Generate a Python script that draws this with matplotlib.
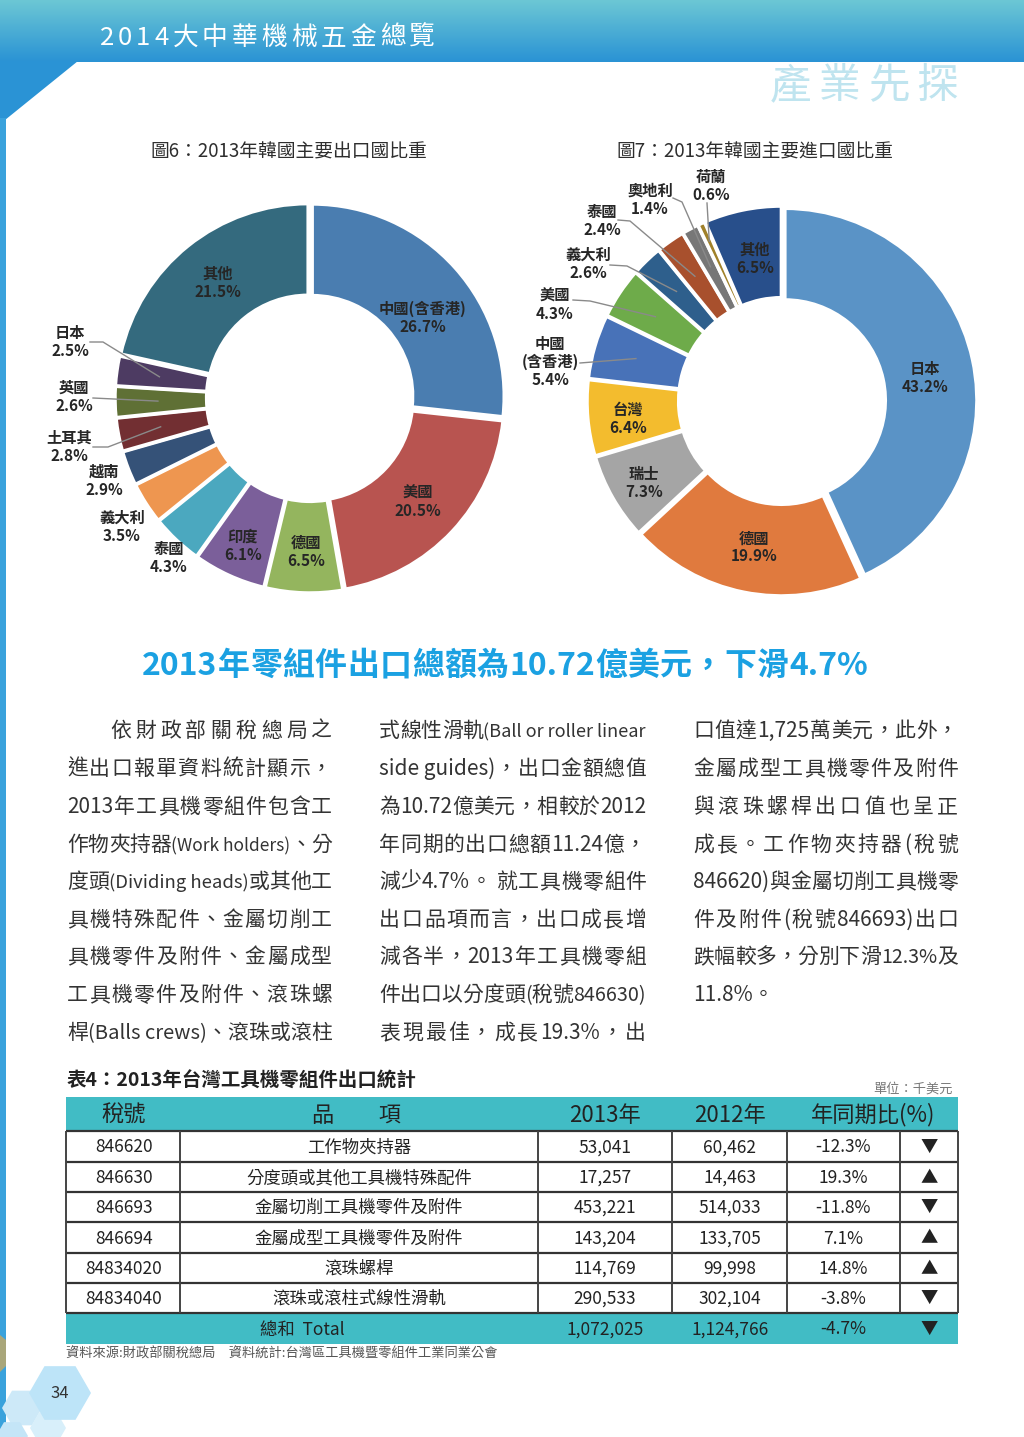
import matplotlib
matplotlib.use("Agg")
import matplotlib.pyplot as plt
from matplotlib import font_manager
from matplotlib.patches import Rectangle, Polygon, RegularPolygon
from matplotlib.colors import LinearSegmentedColormap
import numpy as np

CJK = ['Noto Sans CJK TC', 'DejaVu Sans']
plt.rcParams['font.family'] = CJK
_names = {f.name for f in font_manager.fontManager.ttflist}
NARROW = (['Liberation Sans Narrow'] + CJK) if 'Liberation Sans Narrow' in _names else CJK

# ---------------- data ----------------
# 圖6 韓國主要出口國
exp_countries = ['中國(含香港)', '美國', '德國', '印度', '泰國', '義大利', '越南', '土耳其', '英國', '日本', '其他']
exp_share = [26.7, 20.5, 6.5, 6.1, 4.3, 3.5, 2.9, 2.8, 2.6, 2.5, 21.5]
exp_colors = ['#4A7DB0', '#B85450', '#94B55E', '#7B5F9A', '#4BA8BF', '#EE9650',
              '#355278', '#722F32', '#5F7035', '#4D3B62', '#346A7E']

# 圖7 韓國主要進口國
imp_countries = ['日本', '德國', '瑞士', '台灣', '中國\n(含香港)', '美國', '義大利', '泰國', '奧地利', '荷蘭', '其他']
imp_share = [43.2, 19.9, 7.3, 6.4, 5.4, 4.3, 2.6, 2.4, 1.4, 0.6, 6.5]
imp_colors = ['#5A93C6', '#E07A3E', '#A5A5A5', '#F3BC2E', '#4872B8', '#6EAB4A',
              '#2E5F8C', '#A8502D', '#777777', '#A0812A', '#284F8B']

# 表4
tbl_header = ['稅號', '品　　項', '2013年', '2012年', '年同期比(%)']
codes = ['846620', '846630', '846693', '846694', '84834020', '84834040']
items = ['工作物夾持器', '分度頭或其他工具機特殊配件', '金屬切削工具機零件及附件',
         '金屬成型工具機零件及附件', '滾珠螺桿', '滾珠或滾柱式線性滑軌']
v2013 = [53041, 17257, 453221, 143204, 114769, 290533]
v2012 = [60462, 14463, 514033, 133705, 99998, 302104]
yoy = [-12.3, 19.3, -11.8, 7.1, 14.8, -3.8]
total_2013, total_2012, total_yoy = 1072025, 1124766, -4.7

# 內文
col1 = ['依財政部關稅總局之', '進出口報單資料統計顯示，', '2013年工具機零組件包含工',
        '作物夾持器(Work holders)、分', '度頭(Dividing heads)或其他工', '具機特殊配件、金屬切削工',
        '具機零件及附件、金屬成型', '工具機零件及附件、滾珠螺', '桿(Balls crews)、滾珠或滾柱']
col2 = ['式線性滑軌(Ball or roller linear', 'side guides)，出口金額總值', '為10.72億美元，相較於2012',
        '年同期的出口總額11.24億，', '減少4.7%。 就工具機零組件', '出口品項而言，出口成長增',
        '減各半，2013年工具機零組', '件出口以分度頭(稅號846630)', '表現最佳，成長19.3%，出']
col3 = ['口值達1,725萬美元，此外，', '金屬成型工具機零件及附件', '與滾珠螺桿出口值也呈正',
        '成長。工作物夾持器(稅號', '846620)與金屬切削工具機零', '件及附件(稅號846693)出口',
        '跌幅較多，分別下滑12.3%及', '11.8%。']

# ---------------- page ----------------
W, H = 1024, 1437
fig = plt.figure(figsize=(W / 100, H / 100), dpi=100)
ax_bg = fig.add_axes([0, 0, 1, 1])

# header band
hdr = LinearSegmentedColormap.from_list('hdr', ['#6CC7D4', '#2A93D5'])
ax_bg.imshow(np.linspace(0, 1, 64).reshape(-1, 1), cmap=hdr, extent=[0, W, 62, 0],
             aspect='auto', zorder=0)
ax_bg.add_patch(Polygon([(0, 61), (78, 61), (5, 120), (0, 120)], color='#2A93D5', lw=0))
ax_bg.add_patch(Rectangle((0, 118), 6, H - 118, color='#3AA2DC', lw=0))
ax_bg.add_patch(Polygon([(0, 1335), (6, 1340), (6, 1366), (0, 1372)], color='#A9A67A', lw=0))
ax_bg.set_xlim(0, W)
ax_bg.set_ylim(H, 0)
ax_bg.axis('off')

renderer = fig.canvas.get_renderer()


def is_cjk(ch):
    return ord(ch) > 0x2E80


def width_px(s, size, fam, weight):
    t = ax_bg.text(0, 0, s, fontsize=size, family=fam, weight=weight)
    w = t.get_window_extent(renderer).width
    t.remove()
    return w


def tokens(line, charwise=False):
    if charwise:
        return list(line)
    out, buf = [], ''
    for ch in line:
        if is_cjk(ch):
            if buf:
                out.append(buf)
                buf = ''
            out.append(ch)
        else:
            buf += ch
    if buf:
        out.append(buf)
    return out


def justify(line, x0, x1, y, size=15, color='#333333', weight='normal', last=False, charwise=False):
    toks = tokens(line, charwise)
    lat = [not is_cjk(t[0]) for t in toks]
    fams = [NARROW if l else CJK for l in lat]
    sizes = [size] * len(toks)
    ws = [width_px(t, size, f, weight) for t, f in zip(toks, fams)]
    room = x1 - x0
    lw_ = sum(w for w, l in zip(ws, lat) if l)
    if sum(ws) > room and lw_ > 0:
        k = (room - (sum(ws) - lw_)) / lw_
        sizes = [s * k if l else s for s, l in zip(sizes, lat)]
        ws = [w * k if l else w for w, l in zip(ws, lat)]
    gap = 0 if (last or len(toks) < 2) else (room - sum(ws)) / (len(toks) - 1)
    x = x0
    for t, w, s, f in zip(toks, ws, sizes, fams):
        ax_bg.text(x, y, t, fontsize=s, family=f, color=color, weight=weight,
                   ha='left', va='baseline')
        x += w + gap


justify('2014大中華機械五金總覽', 100, 435, 45, size=18.5, color='white', weight='medium', charwise=True)
justify('產業先探', 770, 958, 98, size=30, color='#BFE4EF', weight='light', charwise=True)

# ---------------- donuts ----------------
def donut(cx, cy, R, shares, colors, labels, inside, outside, leaders, lead_r):
    ax = fig.add_axes([(cx - R) / W, 1 - (cy + R) / H, 2 * R / W, 2 * R / H])
    wedges, _ = ax.pie(shares, colors=colors, startangle=90, counterclock=False,
                       radius=0.985, explode=[0.015] * len(shares),
                       wedgeprops=dict(width=0.47, edgecolor='white', linewidth=2.5))
    ax.set_xlim(-1, 1)
    ax.set_ylim(-1, 1)
    ax.axis('off')

    def to_ax(p):
        return (p[0] - cx) / R, (cy - p[1]) / R

    for w, lab, s in zip(wedges, labels, shares):
        mid = np.deg2rad((w.theta1 + w.theta2) / 2)
        txt = f'{lab}\n{s}%'
        if lab in inside:
            dx, dy = inside[lab]
            ax.text(0.755 * np.cos(mid) + dx / R, 0.755 * np.sin(mid) - dy / R, txt,
                    ha='center', va='center', fontsize=11, weight='bold',
                    color='#262626', linespacing=1.15)
        else:
            tx, ty = to_ax(outside[lab])
            ax.text(tx, ty, txt, ha='center', va='center', fontsize=11, weight='bold',
                    color='#262626', linespacing=1.15, clip_on=False)
        if lab in leaders:
            r = lead_r.get(lab, 0.78)
            pts = [to_ax(p) for p in leaders[lab]] + [(r * np.cos(mid), r * np.sin(mid))]
            ax.plot([p[0] for p in pts], [p[1] for p in pts], color='#8A8A8A', lw=1,
                    clip_on=False)
    return ax


# inside labels: nudges in pixels (dx, dy-down)
donut(310, 398, 195, exp_share, exp_colors, exp_countries,
      inside={'其他': (0, 0), '中國(含香港)': (3, 18), '美國': (0, 3), '德國': (1, 7), '印度': (-6, 14)},
      outside={'日本': (70, 342), '英國': (74, 397), '土耳其': (69, 447),
               '越南': (104, 481), '義大利': (122, 527), '泰國': (169, 558)},
      leaders={'日本': [(90, 342), (103, 342)], '英國': [(93, 398)],
               '土耳其': [(93, 447), (108, 447)]},
      lead_r={})

donut(782, 401, 195, imp_share, imp_colors, imp_countries,
      inside={'日本': (-1, 8), '德國': (1, 2), '瑞士': (-10, 9), '台灣': (-7, 5), '其他': (3, 2)},
      outside={'荷蘭': (711, 186), '奧地利': (650, 200), '泰國': (602, 221),
               '義大利': (588, 264), '美國': (555, 305), '中國\n(含香港)': (550, 362)},
      leaders={'荷蘭': [(707, 203)], '奧地利': [(673, 198), (682, 202)],
               '泰國': [(618, 220), (630, 221)], '義大利': [(610, 265), (627, 266)],
               '美國': [(573, 300), (590, 301)], '中國\n(含香港)': [(580, 363)]},
      lead_r={'荷蘭': 0.9})

ax_bg.text(289, 152, '圖6：2013年韓國主要出口國比重', ha='center', va='center',
           fontsize=13.5, weight='medium', color='#2E2E2E')
ax_bg.text(755, 152, '圖7：2013年韓國主要進口國比重', ha='center', va='center',
           fontsize=13.5, weight='medium', color='#2E2E2E')

# ---------------- headline + body ----------------
justify('2013年零組件出口總額為10.72億美元，下滑4.7%', 142, 868, 675, size=23,
        color='#1BA1E2', weight='bold')

rows_y = [729, 767, 805, 843, 880, 918, 955, 993, 1031]
for i, line in enumerate(col1):
    justify(line, 110 if i == 0 else 67, 332, rows_y[i] + 8)
for i, line in enumerate(col2):
    justify(line, 379, 646, rows_y[i] + 8)
for i, line in enumerate(col3):
    justify(line, 693, 958, rows_y[i] + 8, last=(i == len(col3) - 1))

# ---------------- table ----------------
ax_bg.text(67, 1081, '表4：2013年台灣工具機零組件出口統計', ha='left', va='center',
           fontsize=14, weight='bold', color='#222222')
ax_bg.text(953, 1089, '單位：千美元', ha='right', va='center', fontsize=9.5, color='#777777')

col_edges = [66, 180, 538, 672, 787, 900, 958]
row_edges = [1097, 1131, 1162, 1192, 1222, 1253, 1283, 1313, 1344]
teal = '#41BCC5'
ax_bg.add_patch(Rectangle((66, row_edges[0]), 892, row_edges[1] - row_edges[0], color=teal, lw=0))
ax_bg.add_patch(Rectangle((66, row_edges[-2]), 892, row_edges[-1] - row_edges[-2], color=teal, lw=0))
ax_bg.hlines(row_edges[1:-1], 66, 958, color='#333333', lw=1.6)
ax_bg.vlines(col_edges, row_edges[1], row_edges[-2], color='#444444', lw=1.4)

hdr_x = [124, 357, 605, 730, 873]
hy = (row_edges[0] + row_edges[1]) / 2 + 1
for x, t in zip(hdr_x, tbl_header):
    ax_bg.text(x, hy, t, ha='center', va='center', fontsize=16, color='#222222')

num_x = [124, 359, 605, 730, 843, 929]
for i in range(len(codes)):
    y = (row_edges[i + 1] + row_edges[i + 2]) / 2 + 1
    vals = [codes[i], items[i], f'{v2013[i]:,}', f'{v2012[i]:,}', f'{yoy[i]:.1f}%',
            '▲' if yoy[i] > 0 else '▼']
    for x, t in zip(num_x, vals):
        ax_bg.text(x, y, t, ha='center', va='center', fontsize=12.5, color='#222222')

ty = (row_edges[-2] + row_edges[-1]) / 2 + 1
for x, t in zip([302, 605, 730, 843, 929],
                ['總和  Total', f'{total_2013:,}', f'{total_2012:,}', f'{total_yoy:.1f}%',
                 '▲' if total_yoy > 0 else '▼']):
    ax_bg.text(x, ty, t, ha='center', va='center', fontsize=12.5, color='#222222')

ax_bg.text(66, 1354, '資料來源:財政部關稅總局　資料統計:台灣區工具機暨零組件工業同業公會',
           ha='left', va='center', fontsize=9.5, color='#555555')

# ---------------- footer ----------------
for (x, y, r, c) in [(22, 1408, 20, '#CDE9F8'), (48, 1428, 18, '#D8EFFA'),
                     (12, 1436, 16, '#C4E5F7'), (60, 1393, 31, '#BDE4F8')]:
    ax_bg.add_patch(RegularPolygon((x, y), 6, radius=r, orientation=np.pi / 6,
                                   color=c, lw=0))
ax_bg.text(60, 1394, '34', ha='center', va='center', fontsize=12, color='#333333')

fig.savefig('out.png', dpi=100)
